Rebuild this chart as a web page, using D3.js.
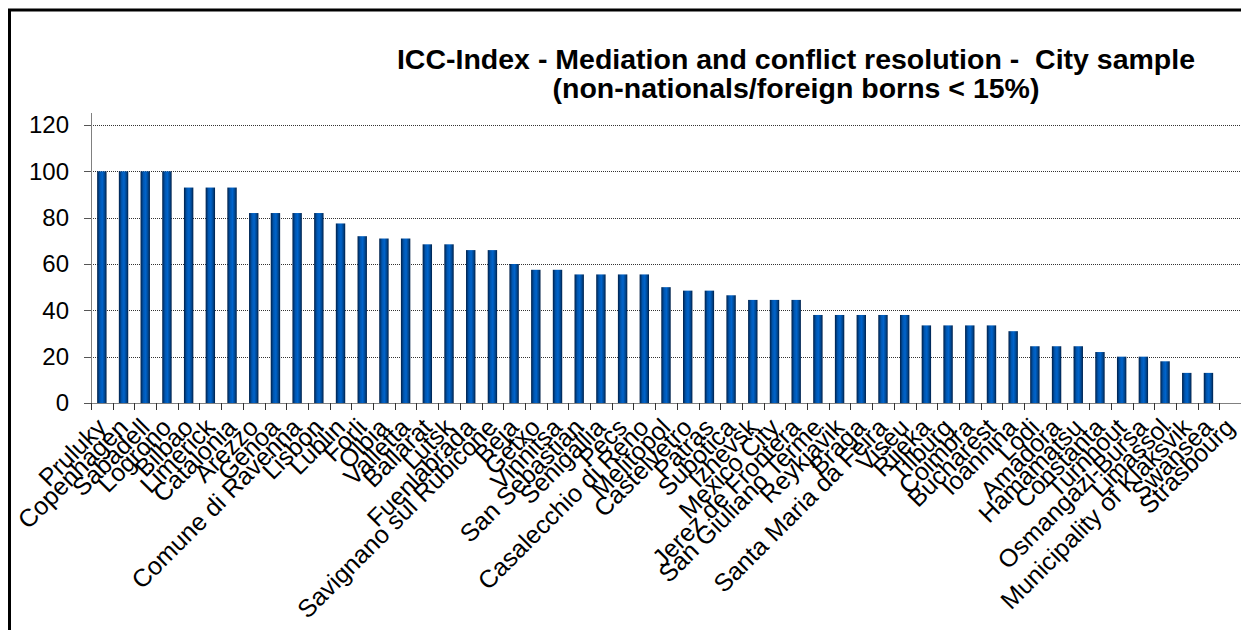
<!DOCTYPE html>
<html>
<head>
<meta charset="utf-8">
<script src="https://cdn.jsdelivr.net/npm/d3@7"></script>
<style>
  body { margin: 0; background: #fff; }
  svg { display: block; font-family: "Liberation Sans", Arial, sans-serif; }
  .grid line { stroke: #333; stroke-dasharray: 1 1; }
</style>
</head>
<body>
<svg id="chart" width="1241" height="630"></svg>
<script>
var cities = ['Pruluky','Copenhagen','Sabadell','Logrono','Bilbao','Limerick','Catalonia','Arezzo','Genoa',
  'Comune di Ravenna','Lisbon','Lublin','Forli','Olbia','Valletta','Ballarat','Lutsk','Fuenlabrada',
  'Savignano sul Rubicone','Beja','Getxo','Vinnitsa','San Sebastian','Senigallia','Pecs','Casalecchio di Reno',
  'Melitopol','Castelvetro','Patras','Subotica','Izhevsk','Mexico City','Jerez de Frontera','San Giuliano Terme',
  'Reykjavik','Braga','Santa Maria da Feira','Viseu','Rijeka','Tilburg','Coimbra','Bucharest','Ioannina','Lodi',
  'Amadora','Hamamatsu','Constanta','Turnhout','Osmangazi-Bursa','Limassol','Municipality of Klaksvik','Swansea','Strasbourg']
var values = [100,100,100,100,93,93,93,82,82,82,82,77.5,72,71,71,68.5,68.5,66,66,60,57.5,57.5,55.5,55.5,55.5,55.5,
  50,48.5,48.5,46.5,44.5,44.5,44.5,38,38,38,38,38,33.5,33.5,33.5,33.5,31,24.5,24.5,24.5,22,20,20,18,13,13,0]
var yTicks = [0,20,40,60,80,100,120]
var titleLines = ['ICC-Index - Mediation and conflict resolution -  City sample', '(non-nationals/foreign borns < 15%)']

var svg = d3.select('#chart')
var plotLeft = 91, plotRight = 1241, plotTop = 125, plotBottom = 403

// chart frame (runs off the right and bottom edges)
svg.append('rect').attr('x',9.5).attr('y',10).attr('width',1300).attr('height',700)
  .attr('fill','none').attr('stroke','#000').attr('stroke-width',3)

var defs = svg.append('defs')
var grad = defs.append('linearGradient').attr('id','barGrad').attr('x1','0').attr('x2','1').attr('y1','0').attr('y2','0')
grad.append('stop').attr('offset','0%').attr('stop-color','#001f47')
grad.append('stop').attr('offset','30%').attr('stop-color','#0056b0')
grad.append('stop').attr('offset','55%').attr('stop-color','#0064cc')
grad.append('stop').attr('offset','80%').attr('stop-color','#00468f')
grad.append('stop').attr('offset','100%').attr('stop-color','#001f47')

var xb = d3.scaleBand().domain(cities).range([plotLeft,plotRight])
var y = d3.scaleLinear().domain([0,120]).range([plotBottom,plotTop])

// gridlines
svg.append('g').attr('class','grid')
  .selectAll('line').data(yTicks.slice(1)).enter().append('line')
  .attr('x1',plotLeft).attr('x2',plotRight)
  .attr('y1',function(d){return Math.round(y(d))+0.5}).attr('y2',function(d){return Math.round(y(d))+0.5})

// bars
svg.append('g').selectAll('rect').data(values).enter().append('rect')
  .attr('x',function(d,i){return xb(cities[i]) + xb.bandwidth()/2 - 4.7})
  .attr('width',9.4)
  .attr('y',function(d){return y(d)})
  .attr('height',function(d){return y(0)-y(d)})
  .attr('fill','url(#barGrad)')

// y axis
svg.append('line').attr('x1',plotLeft+0.5).attr('x2',plotLeft+0.5).attr('y1',113).attr('y2',plotBottom).attr('stroke','#808080')
svg.append('g').selectAll('line').data(yTicks).enter().append('line')
  .attr('x1',plotLeft-7).attr('x2',plotLeft)
  .attr('y1',function(d){return Math.round(y(d))+0.5}).attr('y2',function(d){return Math.round(y(d))+0.5})
  .attr('stroke','#555')
svg.append('g').selectAll('text').data(yTicks).enter().append('text')
  .attr('x',69).attr('y',function(d){return y(d)}).attr('dy','0.35em')
  .attr('text-anchor','end').attr('font-size',24).attr('fill','#000')
  .text(function(d){return d})

// x axis
svg.append('line').attr('x1',plotLeft).attr('x2',plotRight).attr('y1',plotBottom+0.5).attr('y2',plotBottom+0.5).attr('stroke','#808080')
svg.append('g').selectAll('line').data(d3.range(cities.length+1)).enter().append('line')
  .attr('x1',function(i){return Math.round(plotLeft + i*xb.step())+0.5})
  .attr('x2',function(i){return Math.round(plotLeft + i*xb.step())+0.5})
  .attr('y1',plotBottom).attr('y2',plotBottom+7).attr('stroke','#333')

svg.append('g').selectAll('text').data(cities).enter().append('text')
  .attr('transform',function(d){
    var cx = xb(d) + xb.bandwidth()/2
    return 'translate(' + (cx+6) + ',' + (plotBottom+26) + ') rotate(-45)'
  })
  .attr('text-anchor','end').attr('font-size',25).attr('fill','#000')
  .text(function(d){return d})

// title
svg.append('g').selectAll('text').data(titleLines).enter().append('text')
  .attr('x',796).attr('y',function(d,i){return 69 + i*29})
  .attr('text-anchor','middle').attr('font-size',28.5).attr('font-weight','bold')
  .style('white-space','pre')
  .text(function(d){return d})
</script>
</body>
</html>
